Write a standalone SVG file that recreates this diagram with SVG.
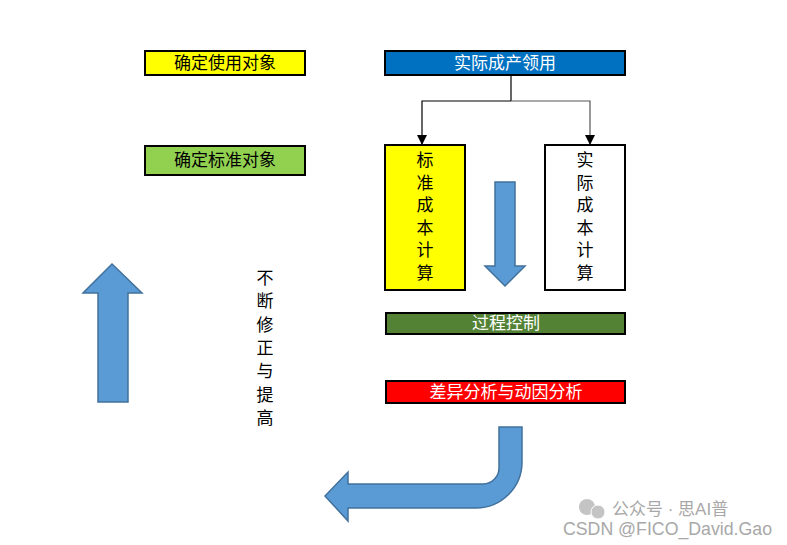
<svg xmlns="http://www.w3.org/2000/svg" width="787" height="545" viewBox="0 0 787 545">
<defs>
<style>
.t{font-family:"Liberation Sans","Noto Sans CJK SC",sans-serif;font-size:17px;text-anchor:middle;dominant-baseline:central}
.box{stroke:#000;stroke-width:2}
.big{fill:#5B9BD5;stroke:#41719C;stroke-width:1.5}
.wm{font-family:"Liberation Sans","Noto Sans CJK SC",sans-serif;fill:#a8a8a8}
</style>
<marker id="ah" markerWidth="10" markerHeight="10" refX="9" refY="5" orient="auto" markerUnits="userSpaceOnUse">
<path d="M0,0 L10,5 L0,10 Z" fill="#000"/>
</marker>
</defs>
<rect width="787" height="545" fill="#fff"/>

<g id="n-use">
<rect class="box" x="145" y="51" width="160" height="24" fill="#FFFF00" stroke-width="1.5"/>
<text class="t" x="225" y="63" fill="#000">确定使用对象</text>
</g>
<g id="n-std">
<rect class="box" x="145" y="146" width="160" height="29" fill="#92D050" stroke-width="1"/>
<text class="t" x="225" y="160.5" fill="#000">确定标准对象</text>
</g>
<g id="n-actual">
<rect class="box" x="385" y="51" width="240" height="24" fill="#0070C0"/>
<text class="t" x="505" y="63" fill="#fff">实际成产领用</text>
</g>
<g id="n-stdcost">
<rect class="box" x="385" y="145" width="80" height="145" fill="#FFFF00"/>
<text class="t" x="425" fill="#000"><tspan x="425" y="160">标</tspan><tspan x="425" y="183">准</tspan><tspan x="425" y="205">成</tspan><tspan x="425" y="228">本</tspan><tspan x="425" y="250">计</tspan><tspan x="425" y="273">算</tspan></text>
</g>
<g id="n-actcost">
<rect class="box" x="545" y="145" width="80" height="145" fill="#fff"/>
<text class="t" x="585" fill="#000"><tspan x="585" y="160">实</tspan><tspan x="585" y="183">际</tspan><tspan x="585" y="205">成</tspan><tspan x="585" y="228">本</tspan><tspan x="585" y="250">计</tspan><tspan x="585" y="273">算</tspan></text>
</g>
<g id="n-process">
<rect class="box" x="386" y="313" width="239" height="21" fill="#548235" stroke-width="1.5"/>
<text class="t" x="506" y="323.5" fill="#fff">过程控制</text>
</g>
<g id="n-variance">
<rect class="box" x="386" y="381" width="239" height="22" fill="#FF0000" stroke-width="1.5"/>
<text class="t" x="506" y="392" fill="#fff">差异分析与动因分析</text>
</g>
<g id="n-improve">
<text class="t" x="265" fill="#000"><tspan x="265" y="278">不</tspan><tspan x="265" y="301">断</tspan><tspan x="265" y="325">修</tspan><tspan x="265" y="348">正</tspan><tspan x="265" y="371">与</tspan><tspan x="265" y="395">提</tspan><tspan x="265" y="418">高</tspan></text>
</g>

<g id="connectors" fill="none" stroke="#000" stroke-width="1.2">
<polyline points="511,75 511,101"/>
<polyline points="511,101 422,101 422,144" marker-end="url(#ah)"/>
<polyline points="511,101 590,101 590,144" marker-end="url(#ah)" stroke="#555"/>
</g>

<g id="flow-arrows">
<polygon class="big" points="495,182 515,182 515,266 525,266 505,286 485,266 495,266"/>
<polygon class="big" points="112,264 142,293 128,293 128,402 98,402 98,293 83,293"/>
<path class="big" d="M499,427 L522,427 L522,462 A46,46 0 0 1 476,508 L348,508 L348,521 L325,496 L348,472 L348,484 L483,484 A16,16 0 0 0 499,468 Z"/>
</g>

<g id="watermark">
<circle cx="587" cy="507" r="8" fill="#c4c4c4"/>
<circle cx="598" cy="512" r="7" fill="#c4c4c4" stroke="#fff" stroke-width="1"/>
<text class="wm" x="612" y="515" font-size="17">公众号 · 思AI普</text>
<text class="wm" x="563" y="535" font-size="17.5" textLength="209" lengthAdjust="spacingAndGlyphs">CSDN @FICO_David.Gao</text>
</g>
</svg>
